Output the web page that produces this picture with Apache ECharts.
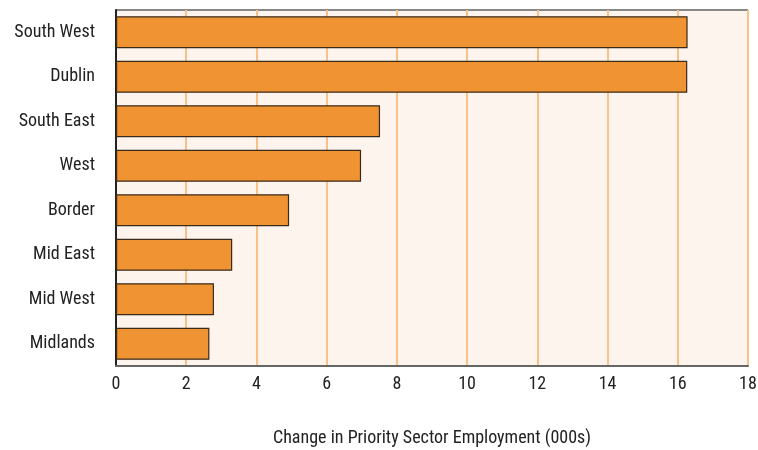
<!DOCTYPE html>
<html><head><meta charset="utf-8">
<script src="https://cdn.jsdelivr.net/npm/echarts@6/dist/echarts.min.js"></script>
<style>html,body{margin:0;padding:0;background:#fff}#c{width:758px;height:450px}</style>
</head><body><div id="c"></div>
<script>
const categories = ["South West","Dublin","South East","West","Border","Mid East","Mid West","Midlands"];
const values = [16.28, 16.27, 7.52, 6.98, 4.93, 3.31, 2.79, 2.66];
const xTicks = [0,2,4,6,8,10,12,14,16,18];
const xTitle = "Change in Priority Sector Employment (000s)";
const font = '"Liberation Sans Narrow","Roboto Condensed","Liberation Sans",Arial,sans-serif';
const chart = echarts.init(document.getElementById('c'));
chart.setOption({
  animation:false,
  grid:{left:116,right:10,top:10,bottom:84,outerBoundsMode:'none',containLabel:false,
    backgroundColor:'#FDF4EE',show:true,borderWidth:0},
  xAxis:{type:'value',min:0,max:18,interval:2,
    axisLine:{show:true,lineStyle:{color:'#666',width:2}},
    axisTick:{show:false},
    splitLine:{show:true,lineStyle:{color:'#F9C08A',width:2}},
    axisLabel:{color:'#222',fontSize:18,fontFamily:font,margin:9,
      formatter:v=>xTicks.includes(v)?String(v):''},
    name:xTitle,nameLocation:'middle',nameGap:63,
    nameTextStyle:{color:'#222',fontSize:18,fontFamily:font}},
  yAxis:{type:'category',data:categories,inverse:true,
    axisLine:{show:true,lineStyle:{color:'#222',width:2}},
    axisTick:{show:false},
    axisLabel:{color:'#222',fontSize:18,fontFamily:font,margin:21}},
  series:[{type:'bar',data:values,barCategoryGap:'28%',
    itemStyle:{color:'#F09433',borderColor:'#3a2a1a',borderWidth:1.2}}],
  graphic:[
    {type:'line',shape:{x1:116,y1:10,x2:748,y2:10},style:{stroke:'#888',lineWidth:2}},
    {type:'line',shape:{x1:748,y1:10,x2:748,y2:366},style:{stroke:'#333',lineWidth:2}}
  ]
});
</script></body></html>
